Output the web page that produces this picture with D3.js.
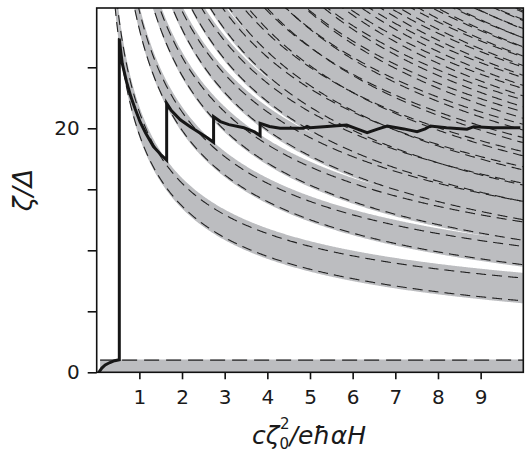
<!DOCTYPE html>
<html><head><meta charset="utf-8">
<script src="https://cdn.jsdelivr.net/npm/d3@7"></script>
<style>body{margin:0;background:#fff}</style>
</head><body>
<svg id="c" width="525" height="452"></svg>
<script>
// ---- data ----
const xTicks = [1,2,3,4,5,6,7,8,9];
const xTickLabels = ["1","2","3","4","5","6","7","8","9"];
const yTicks = [0,5,10,15,20,25];
const yTickLabels = ["0","","","","20",""];
const zeta0 = 20;                        // ζ0/Δ ; Landau levels ε_n/Δ = sqrt(1 + (ζ0/Δ)^2 n / x)
const bandN = d3.range(1, 90);           // Landau level index of each grey band
// offsets (units of Δ) of band edges and dashed lines from the level ε_n
const bandLoOffset = bandN.map(n => n === 1 ? -0.75 : -0.35);
const bandHiOffset = bandN.map(() => 1.75);
const dashLoOffset = bandN.map(n => n === 1 ? -0.55 : -0.18);
const dashHiOffset = bandN.map(() => 1.32);
// bottom band (n = 0)
const bottomBand = {lo: 0, hi: 1.05, level: 1, xStart: 0.08};
// chemical potential ζ(x)/Δ
const muX = [0.05,0.12,0.2,0.31,0.42,0.53,0.53,0.56,0.6,0.7,0.8,0.9,1.02,1.15,1.33,1.5,1.64,1.64,1.75,1.96,2.2,2.43,2.6,2.74,2.74,2.9,3.1,3.45,3.7,3.83,3.83,4.05,4.3,4.6,4.85,4.93,5.0,5.4,5.86,6.1,6.34,6.6,6.81,7.2,7.51,7.7,7.82,8.2,8.68,8.78,8.84,9.3,9.93];
const muY = [0.0,0.35,0.6,0.8,0.95,1.03,27.35,26.4,25.3,23.8,22.6,21.6,20.5,19.6,18.5,17.85,17.4,22.05,21.45,20.7,20.1,19.6,19.2,18.85,20.95,20.55,20.3,20.05,19.7,19.4,20.4,20.15,20.0,20.0,20.0,20.15,20.05,20.15,20.27,19.95,19.64,19.95,20.19,19.95,19.72,19.95,20.19,20.05,19.92,20.05,20.13,20.05,20.05];

// ---- drawing ----
const x = d3.scaleLinear().domain([0,10]).range([96.7,523.3]);
const y = d3.scaleLinear().domain([0,29.86]).range([372.3,8]);
const svg = d3.select("#c");
const lev = (n, xv) => Math.sqrt(1 + zeta0*zeta0*n/xv);

svg.append("clipPath").attr("id","pc").append("rect")
  .attr("x",x(0)).attr("y",y(29.86)).attr("width",x(10)-x(0)).attr("height",y(0)-y(29.86));
const g = svg.append("g").attr("clip-path","url(#pc)");

const xs = d3.range(0.05, 10.01, 0.02);
const grey = "#bcbdc0";
const area = d3.area().x(d=>x(d[0])).y0(d=>y(d[1])).y1(d=>y(d[2]));
bandN.forEach((n,i)=>{
  const pts = xs.map(xv=>[xv, lev(n,xv)+bandLoOffset[i], lev(n,xv)+bandHiOffset[i]]).filter(p=>p[1]<45);
  if (pts.length) g.append("path").attr("d",area(pts)).attr("fill",grey);
});
g.append("rect").attr("x",x(bottomBand.xStart)).attr("y",y(bottomBand.hi))
  .attr("width",x(10)-x(bottomBand.xStart)).attr("height",y(bottomBand.lo)-y(bottomBand.hi)).attr("fill",grey);
// dashed lines
const line = d3.line().x(d=>x(d[0])).y(d=>y(d[1]));
bandN.forEach((n,i)=>{
  [dashLoOffset[i], dashHiOffset[i]].forEach(o=>{
    const pts = xs.map(xv=>[xv, lev(n,xv)+o]).filter(p=>p[1]<45);
    if (pts.length) g.append("path").attr("d",line(pts)).attr("fill","none").attr("stroke","#222")
     .attr("stroke-width",1.1).attr("stroke-dasharray","10,6");
  });
});
g.append("line").attr("x1",x(bottomBand.xStart)).attr("x2",x(10)).attr("y1",y(bottomBand.level)).attr("y2",y(bottomBand.level))
 .attr("stroke","#222").attr("stroke-width",1.1).attr("stroke-dasharray","15,7");
// chemical potential
g.append("path").attr("d",line(muX.map((v,i)=>[v,muY[i]]))).attr("fill","none")
 .attr("stroke","#161616").attr("stroke-width",3).attr("stroke-linejoin","miter");

// frame & axes
svg.append("rect").attr("x",x(0)).attr("y",y(29.86)).attr("width",x(10)-x(0)).attr("height",y(0)-y(29.86))
 .attr("fill","none").attr("stroke","#111").attr("stroke-width",1.6);
const font = "DejaVu Sans";
const xa = svg.append("g").attr("transform",`translate(0,${y(0)})`)
 .call(d3.axisBottom(x).tickValues(xTicks).tickFormat((d,i)=>xTickLabels[i]).tickSize(7).tickPadding(11));
const ya = svg.append("g").attr("transform",`translate(${x(0)},0)`)
 .call(d3.axisLeft(y).tickValues(yTicks).tickFormat((d,i)=>yTickLabels[i]).tickSize(9).tickPadding(8));
[xa,ya].forEach(a=>{a.select(".domain").remove();
  a.selectAll("line").attr("stroke","#111").attr("stroke-width",1.6);
  a.selectAll("text").attr("font-family",font).attr("font-size",20).attr("fill","#1a1a1a");});
// axis titles
const xt = svg.append("text").attr("x",309).attr("y",444).attr("text-anchor","middle")
 .attr("font-family",font).attr("font-size",25).attr("font-style","italic").attr("fill","#1a1a1a");
xt.append("tspan").text("cζ");
xt.append("tspan").attr("font-size",15).attr("dy",5).attr("font-style","normal").text("0");
xt.append("tspan").attr("font-size",15).attr("dx",-9).attr("dy",-20).attr("font-style","normal").text("2");
xt.append("tspan").attr("dy",15).text("/eħαH");
svg.append("text").attr("transform","translate(32,190) rotate(-90)").attr("text-anchor","middle")
 .attr("font-family",font).attr("font-size",27).attr("font-style","italic").attr("fill","#1a1a1a").text("ζ/Δ");
</script>
</body></html>
